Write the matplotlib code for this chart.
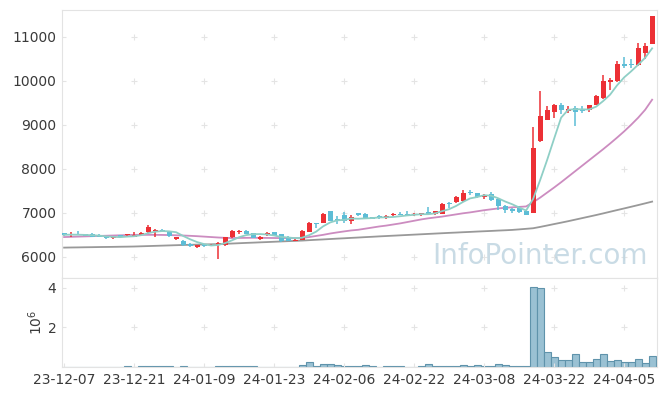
import numpy as np
import pandas as pd
import matplotlib
matplotlib.use('Agg')
import matplotlib.pyplot as plt

# OHLC (85 trading days)
opens = [6540,6490,6520,6510,6510,6500,6460,6420,6490,6490,6460,6500,6560,6590,6610,6560,6400,6370,6290,6230,
         6290,6250,6270,6260,6440,6570,6590,6540,6400,6500,6560,6520,6460,6370,6390,6575,6765,6780,7045,6860,
         6955,6825,6990,6985,6900,6920,6880,6940,6975,6975,6945,6940,7020,6970,6977,7220,7235,7258,7470,7448,
         7360,7430,7315,7160,7080,7100,7050,7007,8637,9114,9280,9455,9320,9387,9340,9340,9455,9620,9965,9985,
         10387,10380,10350,10630,10834]
highs = [6550,6560,6580,6520,6540,6510,6470,6460,6500,6530,6560,6560,6720,6640,6630,6570,6450,6380,6320,6280,
         6300,6290,6340,6460,6610,6620,6600,6550,6470,6560,6570,6530,6470,6400,6600,6800,6770,7000,7050,6920,
         7010,6950,7000,6990,6910,6955,6960,7000,7010,7040,6990,7000,7140,7050,7220,7240,7380,7520,7520,7460,
         7420,7470,7330,7170,7120,7150,7060,8940,9773,9432,9480,9500,9420,9430,9420,9460,9680,10140,10070,10450,
         10530,10500,10850,10860,11463]
lows = [6470,6450,6490,6480,6450,6440,6400,6410,6440,6480,6450,6490,6550,6440,6580,6460,6390,6250,6230,6190,
        6230,6240,5950,6250,6430,6520,6510,6420,6390,6470,6470,6340,6360,6360,6380,6570,6650,6770,6820,6740,
        6760,6745,6930,6860,6850,6860,6860,6930,6940,6950,6920,6930,6960,6960,6970,7100,7230,7250,7400,7340,
        7310,7260,7070,7000,6990,6990,6950,6990,8600,9100,9160,9240,9260,8977,9260,9300,9440,9580,9795,9980,
        10300,10300,10340,10500,10830]
closes = [6500,6510,6500,6485,6460,6460,6420,6450,6450,6520,6500,6540,6680,6620,6590,6470,6440,6260,6240,6270,
          6240,6280,6320,6450,6590,6590,6520,6430,6460,6540,6480,6350,6370,6385,6590,6770,6745,6977,6825,6830,
          6825,6900,6950,6865,6865,6895,6920,6985,6950,6955,6965,6990,6985,7045,7205,7190,7357,7448,7440,7360,
          7400,7300,7160,7070,7050,7030,6955,8470,9205,9341,9455,9341,9360,9280,9320,9440,9660,9993,10011,10387,
          10330,10350,10743,10796,11463]
# volume in millions
volume = [0,0,0,0,0,0,0,0,0,0.05,0,0.05,0.05,0.05,0.05,0.05,0,0.05,0,0,
          0,0,0.05,0.05,0.05,0.05,0.05,0.05,0,0,0,0,0,0,0.1,0.27,0.05,0.15,0.15,0.1,
          0.05,0.05,0.05,0.1,0.05,0,0.05,0.05,0.05,0,0,0.05,0.15,0.05,0.05,0.05,0.05,0.1,0.05,0.1,
          0.05,0.05,0.15,0.1,0.05,0.05,0.05,4.07,4.0,0.75,0.5,0.37,0.37,0.65,0.27,0.27,0.4,0.65,0.32,0.37,
          0.27,0.27,0.4,0.2,0.57]
# longer moving averages (they need history before the window)
ma20 = [6450,6455,6460,6465,6470,6475,6480,6485,6490,6495,6500,6500,6500,6500,6498,6495,6490,6485,6478,6470,
        6460,6450,6440,6432,6428,6430,6432,6434,6432,6430,6428,6426,6425,6425,6430,6450,6475,6500,6530,6555,
        6578,6600,6615,6640,6665,6690,6710,6735,6760,6790,6820,6850,6875,6895,6915,6940,6965,6990,7010,7035,
        7060,7080,7100,7115,7125,7135,7145,7240,7345,7460,7575,7695,7820,7945,8070,8195,8320,8445,8575,8710,
        8850,9000,9160,9340,9570]
ma60 = [6210,6213,6215,6218,6220,6223,6225,6227,6230,6232,6235,6240,6245,6250,6255,6260,6265,6270,6274,6278,
        6282,6286,6290,6296,6303,6310,6317,6323,6330,6336,6343,6350,6357,6363,6370,6379,6388,6396,6405,6414,
        6422,6431,6439,6448,6456,6465,6473,6481,6489,6497,6505,6513,6521,6529,6537,6545,6552,6560,6567,6575,
        6582,6589,6597,6604,6612,6624,6637,6650,6680,6712,6745,6777,6810,6845,6880,6915,6950,6987,7025,7063,
        7100,7138,7176,7215,7255]
tick_labels = ['23-12-07','23-12-21','24-01-09','24-01-23','24-02-06','24-02-22','24-03-08','24-03-22','24-04-05']

df = pd.DataFrame({'o': opens, 'h': highs, 'l': lows, 'c': closes, 'v': volume})
df['ma5'] = df['c'].rolling(5, min_periods=1).mean()
x = np.arange(len(df))

up_col = '#ec3035'
dn_col = '#5dbdd6'
grid_col = '#e4e4e4'
spine_col = '#e3e3e3'
txt_col = '#3a3a3a'

fig = plt.figure(figsize=(6.65, 3.96), dpi=100)
ax = fig.add_axes([0.0932, 0.298, 0.8948, 0.677])
axv = fig.add_axes([0.0932, 0.073, 0.8948, 0.225], sharex=ax)

up = df['c'] >= df['o']
cols = np.where(up, up_col, dn_col)
body_lo = np.minimum(df['o'], df['c'])
body_h = np.maximum(np.abs(df['c'] - df['o']), 12)

ax.plot(x, ma60, color='#999999', lw=1.3, zorder=1)
ax.plot(x, ma20, color='#cc8cc0', lw=1.3, zorder=1)
ax.vlines(x, df['l'], df['h'], colors=cols, lw=1.1, zorder=2)
ax.bar(x, body_h, bottom=body_lo, width=0.72, color=cols, zorder=3)
ax.plot(x, df['ma5'], color='#8fcfc6', lw=1.3, zorder=4)

axv.bar(x, df['v'], width=1.0, color='#9ac1d3', edgecolor='#5f93ab', lw=0.8)

xt = np.arange(0, len(df), 10)
yt = [6000, 7000, 8000, 9000, 10000, 11000]
vt = [2, 4]

ax.set_xlim(-0.3, 84.7)
ax.set_ylim(5520, 11610)
axv.set_ylim(0, 4.5)

# little "+" grid marks at tick intersections
gx, gy = np.meshgrid(xt[1:], yt)
ax.plot(gx.ravel(), gy.ravel(), '+', color=grid_col, ms=4.5, mew=0.8, zorder=0)
gx, gy = np.meshgrid(xt[1:], vt)
axv.plot(gx.ravel(), gy.ravel(), '+', color=grid_col, ms=4.5, mew=0.8, zorder=0)

ax.set_yticks(yt)
ax.set_yticklabels([str(v) for v in yt])
axv.set_yticks(vt)
axv.set_yticklabels(['2', '4'])
axv.set_xticks(xt)
axv.set_xticklabels(tick_labels)
plt.setp(ax.get_xticklabels(), visible=False)
axv.set_ylabel('$10^6$', color=txt_col, fontsize=10, labelpad=2)

for a in (ax, axv):
    for s in a.spines.values():
        s.set_color(spine_col)
    a.tick_params(direction='in', length=3, color=grid_col, labelcolor=txt_col, labelsize=10, pad=4)
ax.tick_params(axis='x', length=0)

ax.text(0.985, 0.03, 'InfoPointer.com', transform=ax.transAxes, ha='right', va='bottom',
        fontsize=20, color='#bcd3df', alpha=0.8, zorder=0)

fig.savefig('out.png', dpi=100)
